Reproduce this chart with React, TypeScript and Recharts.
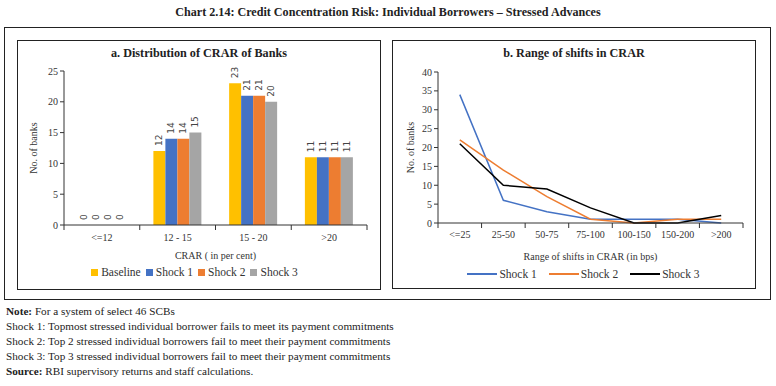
import React from "react";
import {
  BarChart,
  Bar,
  LineChart,
  Line,
  XAxis,
  YAxis,
  Legend,
  LabelList,
} from "recharts";

const crarBands = ["<=12", "12 - 15", "15 - 20", ">20"];
const baseline = [0, 12, 23, 11];
const shock1Bars = [0, 14, 21, 11];
const shock2Bars = [0, 14, 21, 11];
const shock3Bars = [0, 15, 20, 11];
const barTicks = [0, 5, 10, 15, 20, 25];

const shiftRanges = ["<=25", "25-50", "50-75", "75-100", "100-150", "150-200", ">200"];
const shock1Shift = [34, 6, 3, 1, 1, 1, 0];
const shock2Shift = [22, 14, 7, 1, 0, 1, 1];
const shock3Shift = [21, 10, 9, 4, 0, 0, 2];
const lineTicks = [0, 5, 10, 15, 20, 25, 30, 35, 40];

const barData = crarBands.map((band, i) => ({
  band,
  Baseline: baseline[i],
  "Shock 1": shock1Bars[i],
  "Shock 2": shock2Bars[i],
  "Shock 3": shock3Bars[i],
}));

const lineData = shiftRanges.map((range, i) => ({
  range,
  "Shock 1": shock1Shift[i],
  "Shock 2": shock2Shift[i],
  "Shock 3": shock3Shift[i],
}));

const serif = "'Liberation Serif', 'DejaVu Serif', serif";
const axisColor = "#333";
const tickStyle = { fontSize: 10, fill: "#333", fontFamily: serif };
const X_TICK_SIZE = 5;

const BarValue = (props: any) => {
  const { x, y, width, value } = props;
  const cx = Number(x) + Number(width) / 2;
  const cy = Number(y) - 5;
  return (
    <text
      x={cx}
      y={cy}
      transform={`rotate(-90 ${cx} ${cy})`}
      textAnchor="start"
      dominantBaseline="central"
      fontSize={9}
      fill="#444"
      fontFamily="'DejaVu Sans', sans-serif"
    >
      {value}
    </text>
  );
};

// category label at band centre, tick marks at band edges (Excel style)
const makeBandTick = (margin: number) => (props: any) => {
  const { x, y, payload, index, visibleTicksCount } = props;
  const half = Number(payload?.offset) || 0;
  const axisY = Number(y) - X_TICK_SIZE - margin;
  const last = index === visibleTicksCount - 1;
  return (
    <g>
      <line x1={x - half} x2={x - half} y1={axisY} y2={axisY + X_TICK_SIZE} stroke={axisColor} />
      {last && (
        <line x1={x + half} x2={x + half} y1={axisY} y2={axisY + X_TICK_SIZE} stroke={axisColor} />
      )}
      <text x={x} y={y} dy="0.71em" textAnchor="middle" {...tickStyle}>
        {payload.value}
      </text>
    </g>
  );
};

// legend with dark text and fixed height
const makeLegend = (kind: "square" | "line", shift: number) => (props: any) => {
  const items = props.payload || [];
  return (
    <div
      style={{
        display: "flex",
        justifyContent: "center",
        alignItems: "center",
        height: 14,
        paddingLeft: shift,
        fontSize: 11.5,
        fontFamily: serif,
        color: "#333",
      }}
    >
      {items.map((it: any) => (
        <div
          key={it.value}
          style={{ display: "flex", alignItems: "center", marginRight: kind === "square" ? 5 : 12 }}
        >
          {kind === "square" ? (
            <span
              style={{ width: 7, height: 7, background: it.color, marginRight: 3, display: "inline-block" }}
            />
          ) : (
            <span
              style={{ width: 30, height: 2, background: it.color, marginRight: 2, display: "inline-block" }}
            />
          )}
          <span>{it.value}</span>
        </div>
      ))}
    </div>
  );
};

const barSeries = [
  { key: "Baseline", color: "#FFC000" },
  { key: "Shock 1", color: "#4472C4" },
  { key: "Shock 2", color: "#ED7D31" },
  { key: "Shock 3", color: "#A5A5A5" },
];

const lineSeries = [
  { key: "Shock 1", color: "#4472C4" },
  { key: "Shock 2", color: "#ED7D31" },
  { key: "Shock 3", color: "#000000" },
];

const box = (left: number, top: number, width: number, height: number) => ({
  position: "absolute" as const,
  left,
  top,
  width,
  height,
  border: "1px solid #222",
  boxSizing: "border-box" as const,
});

const panelTitle = (left: number) => ({
  position: "absolute" as const,
  left,
  top: 46,
  width: 364,
  textAlign: "center" as const,
  fontWeight: "bold" as const,
  fontSize: 12.2,
});

export default function App() {
  return (
    <div
      style={{
        position: "absolute",
        left: 0,
        top: 0,
        width: 776,
        height: 386,
        background: "#fff",
        fontFamily: serif,
        color: "#222",
      }}
    >
      <div
        style={{
          position: "absolute",
          left: 0,
          top: 5,
          width: 776,
          textAlign: "center",
          fontWeight: "bold",
          fontSize: 12.1,
        }}
      >
        Chart 2.14: Credit Concentration Risk: Individual Borrowers – Stressed Advances
      </div>
      <div style={box(4, 27, 767, 273)} />
      <div style={box(17, 40, 364, 250)} />
      <div style={box(392, 40, 364, 249)} />

      <div style={panelTitle(17)}>a. Distribution of CRAR of Banks</div>
      <div style={panelTitle(392)}>b. Range of shifts in CRAR</div>

      <div style={{ position: "absolute", left: 17, top: 40 }}>
        <BarChart
          width={363}
          height={249}
          data={barData}
          margin={{ top: 31, right: 13, left: 0, bottom: 10 }}
          barCategoryGap="18%"
          barGap={0}
        >
          <XAxis
            dataKey="band"
            height={40}
            tickLine={false}
            tickSize={X_TICK_SIZE}
            axisLine={{ stroke: axisColor }}
            tick={makeBandTick(4)}
            tickMargin={4}
            interval={0}
            label={{
              value: "CRAR ( in per cent)",
              position: "insideBottom",
              offset: 6,
              style: tickStyle,
            }}
          />
          <YAxis
            width={47}
            domain={[0, 25]}
            ticks={barTicks}
            tick={tickStyle}
            tickLine={{ stroke: axisColor }}
            axisLine={{ stroke: axisColor }}
            tickSize={4}
            label={{
              value: "No. of banks",
              angle: -90,
              position: "insideLeft",
              offset: 16,
              style: { ...tickStyle, textAnchor: "middle" },
            }}
          />
          <Legend verticalAlign="bottom" content={makeLegend("square", 10)} />
          {barSeries.map((s) => (
            <Bar
              key={s.key}
              dataKey={s.key}
              fill={s.color}
              minPointSize={0.01}
              isAnimationActive={false}
            >
              <LabelList dataKey={s.key} content={BarValue} />
            </Bar>
          ))}
        </BarChart>
      </div>

      <div style={{ position: "absolute", left: 392, top: 40 }}>
        <LineChart
          width={363}
          height={248}
          data={lineData}
          margin={{ top: 32, right: 12, left: 0, bottom: 7 }}
        >
          <XAxis
            dataKey="range"
            scale="band"
            height={44}
            tickLine={false}
            tickSize={X_TICK_SIZE}
            axisLine={{ stroke: axisColor }}
            tick={makeBandTick(3)}
            tickMargin={3}
            interval={0}
            label={{
              value: "Range of shifts in CRAR (in bps)",
              position: "insideBottom",
              offset: 7,
              style: tickStyle,
            }}
          />
          <YAxis
            width={46}
            domain={[0, 40]}
            ticks={lineTicks}
            tick={tickStyle}
            tickLine={{ stroke: axisColor }}
            axisLine={{ stroke: axisColor }}
            tickSize={4}
            label={{
              value: "No. of banks",
              angle: -90,
              position: "insideLeft",
              offset: 18,
              style: { ...tickStyle, textAnchor: "middle" },
            }}
          />
          <Legend verticalAlign="bottom" content={makeLegend("line", 44)} />
          {lineSeries.map((s) => (
            <Line
              key={s.key}
              type="linear"
              dataKey={s.key}
              stroke={s.color}
              strokeWidth={1.5}
              dot={false}
              isAnimationActive={false}
            />
          ))}
        </LineChart>
      </div>

      <div
        style={{
          position: "absolute",
          left: 6,
          top: 304,
          fontSize: 11.2,
          lineHeight: "15px",
          color: "#222",
        }}
      >
        <div>
          <b>Note:</b> For a system of select 46 SCBs
        </div>
        <div>Shock 1: Topmost stressed individual borrower fails to meet its payment commitments</div>
        <div>Shock 2: Top 2 stressed individual borrowers fail to meet their payment commitments</div>
        <div>Shock 3: Top 3 stressed individual borrowers fail to meet their payment commitments</div>
        <div>
          <b>Source:</b> RBI supervisory returns and staff calculations.
        </div>
      </div>
    </div>
  );
}
